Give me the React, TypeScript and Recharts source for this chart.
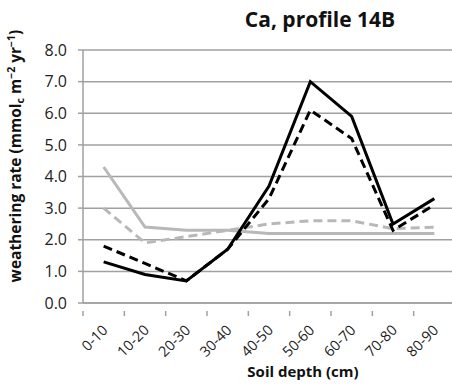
import { CartesianGrid, Line, LineChart, XAxis, YAxis } from "recharts";

const depths = ["0-10", "10-20", "20-30", "30-40", "40-50", "50-60", "60-70", "70-80", "80-90"];
const blackSolid = [1.3, 0.9, 0.7, 1.7, 3.7, 7.0, 5.9, 2.5, 3.3];
const blackDashed = [1.8, 1.25, 0.7, 1.7, 3.3, 6.1, 5.2, 2.3, 3.1];
const graySolid = [4.3, 2.4, 2.3, 2.3, 2.2, 2.2, 2.2, 2.2, 2.2];
const grayDashed = [3.0, 1.9, 2.1, 2.3, 2.5, 2.6, 2.6, 2.35, 2.4];
const yTicks = [0, 1, 2, 3, 4, 5, 6, 7, 8];

const data = depths.map((depth, i) => ({
  depth,
  blackSolid: blackSolid[i],
  blackDashed: blackDashed[i],
  graySolid: graySolid[i],
  grayDashed: grayDashed[i],
}));

const FONT = "'Open Sans', 'Liberation Sans', sans-serif";
const AXIS = "#a0a0a0";
const CHART_W = 460;
const LEFT = 83;
const RIGHT = 5;
const BAND = (CHART_W - LEFT - RIGHT) / depths.length;

// category label rotated 45°, with the tick mark drawn on the band boundary
function DepthTick(props: any) {
  const { x, y, payload } = props;
  const edge = x - BAND / 2;
  const tx = x + 5;
  const ty = y + 20;
  return (
    <g>
      <line x1={edge} y1={y} x2={edge} y2={y + 5} stroke={AXIS} strokeWidth={1.5} />
      <text
        x={tx}
        y={ty}
        textAnchor="end"
        transform={`rotate(-45 ${tx} ${ty})`}
        fontFamily={FONT}
        fontSize={14.5}
        fill="#222"
      >
        {payload.value}
      </text>
    </g>
  );
}

function RateLabel() {
  return (
    <text
      transform="translate(21 156) rotate(-90)"
      textAnchor="middle"
      fontFamily={FONT}
      fontSize={15.5}
      fontWeight="bold"
      fill="#111"
    >
      weathering rate (mmol
      <tspan fontSize={10.5} dy={3}>c</tspan>
      <tspan dy={-3}> m</tspan>
      <tspan fontSize={10.5} dy={-6}>−2</tspan>
      <tspan dy={6}> yr</tspan>
      <tspan fontSize={10.5} dy={-6}>−1</tspan>
      <tspan dy={6}>)</tspan>
    </text>
  );
}

export default function App() {
  return (
    <div style={{ position: "absolute", left: 0, top: 0, width: 452, height: 385, overflow: "hidden", background: "#fff" }}>
      <div
        style={{
          position: "absolute",
          left: 195,
          width: 250,
          top: 5,
          textAlign: "center",
          fontFamily: FONT,
          fontWeight: "bold",
          fontSize: 21,
          color: "#111",
        }}
      >
        Ca, profile 14B
      </div>
      <div
        style={{
          position: "absolute",
          left: 203,
          width: 200,
          top: 361,
          textAlign: "center",
          fontFamily: FONT,
          fontWeight: "bold",
          fontSize: 15,
          color: "#111",
        }}
      >
        Soil depth (cm)
      </div>
      <LineChart width={CHART_W} height={385} data={data} margin={{ top: 50, right: RIGHT, bottom: 0, left: 0 }}>
        <CartesianGrid vertical={false} stroke={AXIS} strokeWidth={1.5} />
        <XAxis
          dataKey="depth"
          scale="band"
          height={82}
          stroke={AXIS}
          strokeWidth={1.5}
          tickLine={false}
          tick={<DepthTick />}
          interval={0}
        />
        <YAxis
          width={LEFT}
          domain={[0, 8]}
          ticks={yTicks}
          stroke={AXIS}
          strokeWidth={1.5}
          tickSize={5}
          tickMargin={11}
          tickFormatter={(v: number) => v.toFixed(1)}
          tick={{ fill: "#222", fontSize: 16, fontFamily: FONT }}
          label={<RateLabel />}
        />
        <Line dataKey="graySolid" stroke="#b8b8b8" strokeWidth={3} dot={false} isAnimationActive={false} />
        <Line dataKey="grayDashed" stroke="#b8b8b8" strokeWidth={3} strokeDasharray="9 5" dot={false} isAnimationActive={false} />
        <Line dataKey="blackDashed" stroke="#000" strokeWidth={3} strokeDasharray="9 5" dot={false} isAnimationActive={false} />
        <Line dataKey="blackSolid" stroke="#000" strokeWidth={3} dot={false} isAnimationActive={false} />
      </LineChart>
    </div>
  );
}
